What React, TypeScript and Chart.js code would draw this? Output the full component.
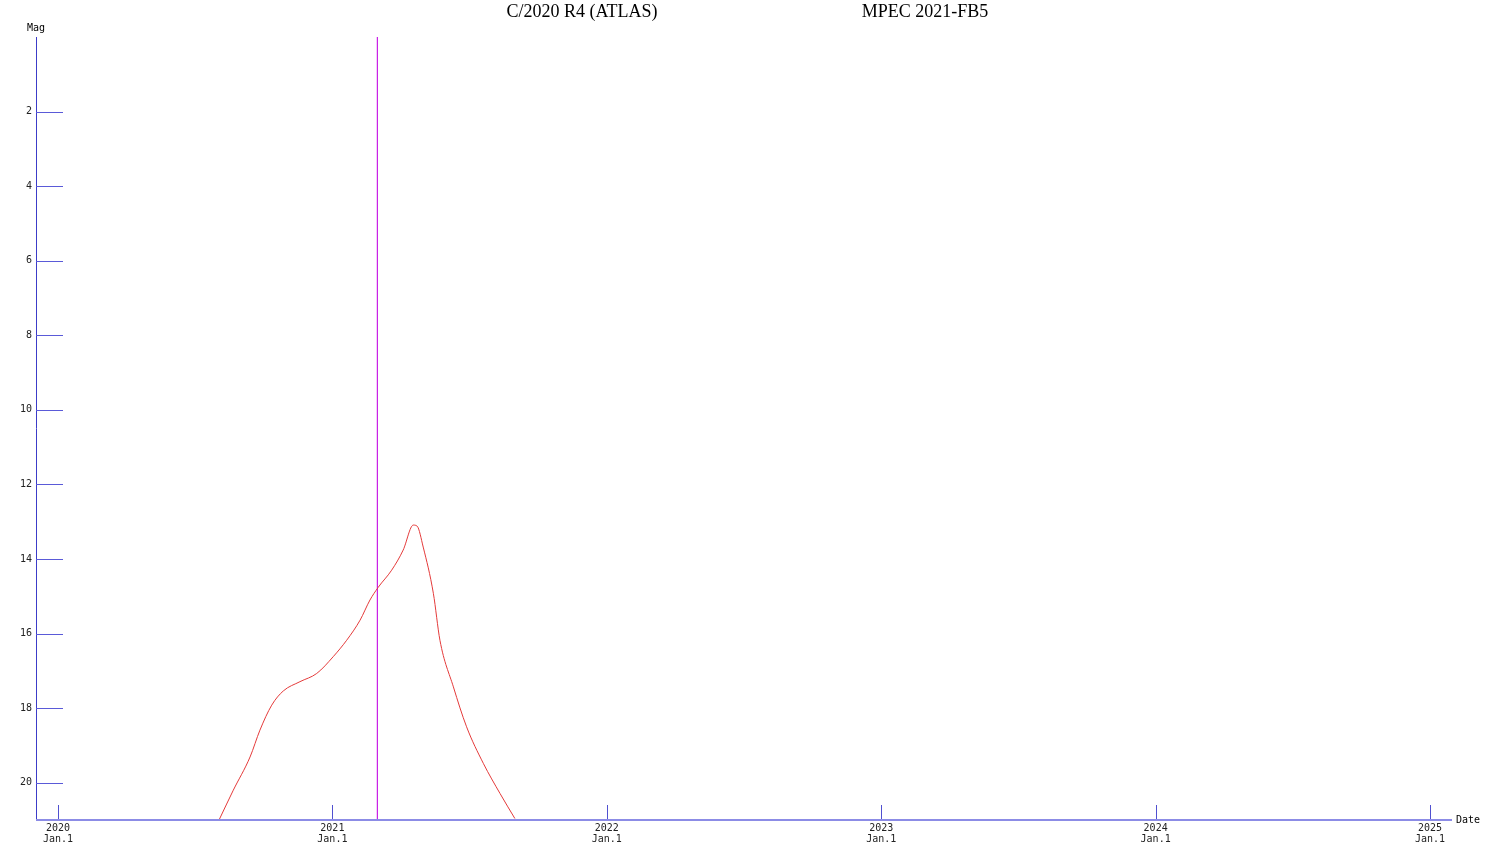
import React, { useEffect, useRef } from 'react';
import { Chart, registerables } from 'chart.js';

Chart.register(...registerables);

// ---- data ----
const yearTicks = [2020, 2021, 2022, 2023, 2024, 2025];
const magTicks = [2, 4, 6, 8, 10, 12, 14, 16, 18, 20];
const curveDates = [
  2020.587, 2020.639, 2020.700, 2020.736, 2020.779, 2020.821, 2020.882, 2020.943,
  2021.003, 2021.052, 2021.101, 2021.137, 2021.167, 2021.216, 2021.258, 2021.295,
  2021.309, 2021.331, 2021.368, 2021.392, 2021.441, 2021.489, 2021.550, 2021.611,
  2021.665,
];
const curveMags = [
  21.0, 20.2, 19.31, 18.59, 17.92, 17.54, 17.29, 17.07,
  16.62, 16.18, 15.64, 15.1, 14.76, 14.3, 13.76, 13.09,
  13.12, 13.68, 14.92, 16.18, 17.43, 18.5, 19.48, 20.29,
  20.96,
];
const observationDate = 2021.164;
const titleLeft = 'C/2020 R4 (ATLAS)';
const titleRight = 'MPEC 2021-FB5';
const yAxisTitle = 'Mag';
const xAxisTitle = 'Date';
const xSubLabel = 'Jan.1';

const monoFont = '"DejaVu Sans Mono", "Liberation Mono", monospace';

const decorPlugin = {
  id: 'decor',
  afterDatasetsDraw(chart: any) {
    const { ctx, chartArea, scales } = chart;
    const xs = scales.x;
    const ys = scales.y;
    ctx.save();
    // y axis line
    ctx.strokeStyle = '#3c3cc8';
    ctx.lineWidth = 1;
    ctx.beginPath();
    ctx.moveTo(chartArea.left + 0.5, chartArea.top);
    ctx.lineTo(chartArea.left + 0.5, chartArea.bottom);
    ctx.stroke();
    // y ticks (inside)
    ctx.strokeStyle = '#5a5ad8';
    for (const m of magTicks) {
      const py = Math.round(ys.getPixelForValue(m)) + 0.5;
      ctx.beginPath();
      ctx.moveTo(chartArea.left, py);
      ctx.lineTo(chartArea.left + 27, py);
      ctx.stroke();
    }
    // x ticks (inside, upward)
    ctx.strokeStyle = '#5050d0';
    for (const yv of yearTicks) {
      const px = Math.round(xs.getPixelForValue(yv)) + 0.5;
      ctx.beginPath();
      ctx.moveTo(px, chartArea.bottom);
      ctx.lineTo(px, chartArea.bottom - 15);
      ctx.stroke();
    }
    // x axis line
    ctx.strokeStyle = '#8c8ce6';
    ctx.lineWidth = 2;
    ctx.beginPath();
    ctx.moveTo(chartArea.left, chartArea.bottom);
    ctx.lineTo(chartArea.right, chartArea.bottom);
    ctx.stroke();

    // axis titles
    ctx.fillStyle = '#000';
    ctx.font = `10px ${monoFont}`;
    ctx.textBaseline = 'middle';
    ctx.textAlign = 'center';
    ctx.fillText(yAxisTitle, chartArea.left, 28);
    ctx.textAlign = 'left';
    ctx.fillText(xAxisTitle, chartArea.right + 4, chartArea.bottom);

    // titles
    ctx.font = '18px "Liberation Serif", "DejaVu Serif", serif';
    ctx.textAlign = 'center';
    ctx.textBaseline = 'middle';
    ctx.fillText(titleLeft, 582, 12);
    ctx.fillText(titleRight, 925, 12);
    ctx.restore();
  },
};

export default function App() {
  const canvasRef = useRef<HTMLCanvasElement | null>(null);

  useEffect(() => {
    if (!canvasRef.current) return;
    const chart = new Chart(canvasRef.current, {
      type: 'line',
      data: {
        datasets: [
          {
            label: 'Magnitude',
            data: curveDates.map((d, i) => ({ x: d, y: curveMags[i] })),
            borderColor: '#e43a3a',
            borderWidth: 1,
            pointRadius: 0,
            cubicInterpolationMode: 'monotone',
            fill: false,
          },
          {
            label: 'Date',
            data: [
              { x: observationDate, y: 0 },
              { x: observationDate, y: 21 },
            ],
            borderColor: '#c81ee6',
            borderWidth: 1.2,
            pointRadius: 0,
            fill: false,
          },
        ],
      },
      options: {
        responsive: false,
        animation: false,
        layout: { padding: { top: 37, right: 48, left: 0, bottom: 0 } },
        plugins: {
          legend: { display: false },
          tooltip: { enabled: false },
          title: { display: false },
        },
        scales: {
          x: {
            type: 'linear',
            min: 2019.92,
            max: 2025.08,
            grid: { display: false, drawTicks: false },
            border: { display: false },
            afterBuildTicks: (scale: any) => {
              scale.ticks = yearTicks.map((v) => ({ value: v }));
            },
            afterFit: (scale: any) => {
              scale.height = 37;
            },
            ticks: {
              autoSkip: false,
              maxRotation: 0,
              padding: 3,
              color: '#222',
              font: { family: monoFont, size: 10, lineHeight: 1.1 },
              callback: (v: any) => [String(v), xSubLabel],
            },
          },
          y: {
            type: 'linear',
            reverse: true,
            min: 0,
            max: 21,
            grid: { display: false, drawTicks: false },
            border: { display: false },
            afterBuildTicks: (scale: any) => {
              scale.ticks = magTicks.map((v) => ({ value: v }));
            },
            afterFit: (scale: any) => {
              scale.width = 36;
            },
            ticks: {
              autoSkip: false,
              padding: 4,
              color: '#222',
              font: { family: monoFont, size: 10 },
              callback: (v: any) => String(v),
            },
          },
        },
      },
      plugins: [decorPlugin],
    });
    return () => chart.destroy();
  }, []);

  return (
    <canvas
      ref={canvasRef}
      width={1500}
      height={857}
      style={{ position: 'fixed', left: 0, top: 0, display: 'block', background: '#fff' }}
    />
  );
}
